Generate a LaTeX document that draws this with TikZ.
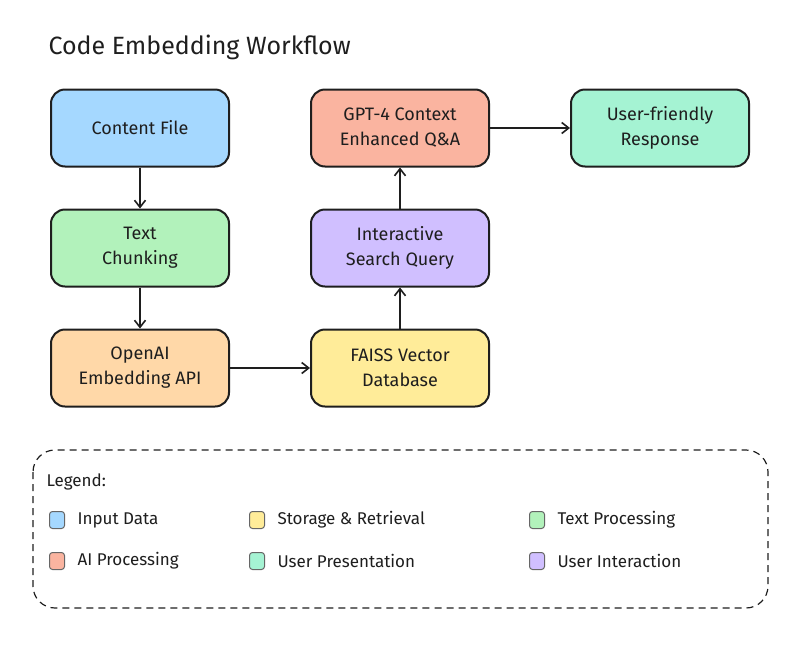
\documentclass[tikz,border=0pt]{standalone}
\usepackage{fontspec}
\setmainfont{Fira Sans}
\usetikzlibrary{arrows.meta, positioning}
\tikzset{>={Straight Barb[length=7pt,width=11pt]}}
\definecolor{inblue}{HTML}{A5D8FF}
\definecolor{txgreen}{HTML}{B2F2BB}
\definecolor{aiorange}{HTML}{FFD8A8}
\definecolor{styellow}{HTML}{FFEC99}
\definecolor{uipurple}{HTML}{D0BFFF}
\definecolor{aisalmon}{HTML}{FAB4A0}
\definecolor{upteal}{HTML}{A5F3D3}
\definecolor{inkgray}{HTML}{1E1E1E}

\begin{document}
\begin{tikzpicture}[x=1pt,y=-1pt,
    stage/.style={draw=inkgray, line width=2pt, rounded corners=14pt, minimum width=178pt, minimum height=77pt, align=center, font=\fontsize{18}{25}\selectfont, text=inkgray},
    flow/.style={->, draw=inkgray, line width=1.6pt},
    swatch/.style={draw=black!60, line width=1pt, rounded corners=3pt, minimum width=15pt, minimum height=17pt, inner sep=0pt},
    legtext/.style={font=\fontsize{17}{19}\selectfont, text=inkgray, anchor=west}]
            \useasboundingbox (0,0) rectangle (805,651);
            \node[anchor=west, font=\fontsize{25}{28}\selectfont, text=inkgray] (title) at (45,47) {Code Embedding Workflow};
            % left column
            \node[stage, fill=inblue] (content) at (140,128) {Content File};
            \node[stage, fill=txgreen, below=41pt of content] (chunk) {Text\\Chunking};
            \node[stage, fill=aiorange, below=41pt of chunk] (embed) {OpenAI\\Embedding API};
            % right column
            \node[stage, fill=styellow, right=80pt of embed] (faiss) {FAISS Vector\\Database};
            \node[stage, fill=uipurple, above=41pt of faiss] (search) {Interactive\\Search Query};
            \node[stage, fill=aisalmon, above=41pt of search] (gpt) {GPT-4 Context\\Enhanced Q\&A};
            \node[stage, fill=upteal, right=80pt of gpt] (reply) {User-friendly\\Response};
            % connectors
            \draw[flow] (content) -- (chunk);
            \draw[flow] (chunk) -- (embed);
            \draw[flow] (embed) -- (faiss);
            \draw[flow] (faiss) -- (search);
            \draw[flow] (search) -- (gpt);
            \draw[flow] (gpt) -- (reply);
            % legend
            \draw[inkgray, line width=1.2pt, dashed, dash pattern=on 7pt off 5pt, rounded corners=22pt] (33,450) rectangle (768,608);
            \node[legtext] (legend) at (43,482) {Legend:};
            \node[swatch, fill=inblue] (sw1) at (57,520) {};
            \node[legtext, right=9pt of sw1] {Input Data};
            \node[swatch, fill=styellow] (sw2) at (257,520) {};
            \node[legtext, right=9pt of sw2] {Storage \& Retrieval};
            \node[swatch, fill=txgreen] (sw3) at (537,520) {};
            \node[legtext, right=9pt of sw3] {Text Processing};
            \node[swatch, fill=aisalmon] (sw4) at (57,561) {};
            \node[legtext, right=9pt of sw4] {AI Processing};
            \node[swatch, fill=upteal] (sw5) at (257,561) {};
            \node[legtext, right=9pt of sw5] {User Presentation};
            \node[swatch, fill=uipurple] (sw6) at (537,561) {};
            \node[legtext, right=9pt of sw6] {User Interaction};
        \end{tikzpicture}
\end{document}
